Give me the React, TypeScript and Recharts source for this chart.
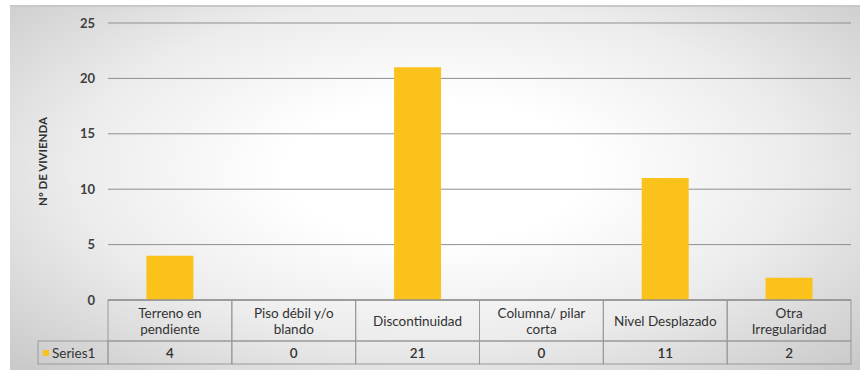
import React from "react";
import { BarChart, Bar, XAxis, YAxis, CartesianGrid } from "recharts";

// categories shown in the data table (line breaks as in the original)
const categories = [
  "Terreno en\npendiente",
  "Piso débil y/o\nblando",
  "Discontinuidad",
  "Columna/ pilar\ncorta",
  "Nivel Desplazado",
  "Otra\nIrregularidad",
];
const series1 = [4, 0, 21, 0, 11, 2];
const yTicks = [0, 5, 10, 15, 20, 25];

const data = categories.map((name, i) => ({ name, value: series1[i] }));

const W = 863;
const H = 370;
const M = { top: 23, right: 12, left: 38, bottom: 0 };
const Y_W = 70;
const X_H = 70;
const COL_W = (W - M.left - Y_W - M.right) / categories.length;
const GOLD = "#FCC21C";
const BORDER = "#9a9a9a";
const FONT = "Lato, 'Open Sans', sans-serif";
const FS = 13.5;

const TableTick = (props: any) => {
  const { x, y, index, payload } = props;
  const lines = String(payload.value).split("\n");
  const x0 = x - COL_W / 2;
  const rowH = 41;
  const valH = 23;
  return (
    <g>
      <rect x={x0} y={y} width={COL_W} height={rowH} fill="none" stroke={BORDER} />
      <rect x={x0} y={y + rowH} width={COL_W} height={valH} fill="none" stroke={BORDER} />
      <text textAnchor="middle" fontSize={FS} fill="#333" fontFamily={FONT}>
        {lines.map((l, i) => (
          <tspan key={i} x={x} y={y + rowH / 2 + 5 + (i - (lines.length - 1) / 2) * 16}>
            {l}
          </tspan>
        ))}
      </text>
      <text x={x} y={y + rowH + valH / 2 + 5} textAnchor="middle" fontSize={FS} fontWeight={600} fill="#333" fontFamily={FONT}>
        {series1[index]}
      </text>
      {index === 0 && (
        <g>
          <rect x={M.left} y={y + rowH} width={x0 - M.left} height={valH} fill="none" stroke={BORDER} />
          <rect x={M.left + 5} y={y + rowH + 9} width={6} height={6} fill={GOLD} />
          <text x={M.left + 14} y={y + rowH + valH / 2 + 5} fontSize={FS} fill="#333" fontFamily={FONT}>
            Series1
          </text>
        </g>
      )}
    </g>
  );
};

export default function App() {
  return (
    <div style={{ position: "absolute", left: 0, top: 0, width: W, height: H, background: "#fff" }}>
      <div
        style={{
          position: "absolute",
          left: 10,
          top: 5,
          width: 850,
          height: 363,
          borderTop: "2px solid #c8c8c8",
          background: "radial-gradient(ellipse at 50% 45%, #ffffff 25%, #ececec 60%, #c8c8c8 100%)",
        }}
      />
      <div style={{ position: "absolute", left: 0, top: 0 }}>
        <BarChart width={W} height={H} data={data} margin={M} barCategoryGap="31%">
          <CartesianGrid vertical={false} stroke="#8f8f8f" />
          <XAxis
            dataKey="name"
            tick={<TableTick />}
            tickLine={false}
            tickSize={0}
            tickMargin={0}
            height={X_H}
            axisLine={{ stroke: "#808080" }}
            interval={0}
          />
          <YAxis
            width={Y_W}
            domain={[0, 25]}
            ticks={yTicks}
            axisLine={false}
            tickLine={false}
            tickSize={0}
            tickMargin={13}
            tick={{ fontSize: 13, fontWeight: 700, fill: "#404040", fontFamily: FONT }}
            label={{
              value: "N° DE VIVIENDA",
              angle: -90,
              position: "insideLeft",
              offset: 5,
              style: { fontSize: 11.5, fontWeight: 700, fill: "#333", fontFamily: FONT, textAnchor: "middle" },
            }}
          />
          <Bar dataKey="value" fill={GOLD} isAnimationActive={false} />
        </BarChart>
      </div>
    </div>
  );
}
